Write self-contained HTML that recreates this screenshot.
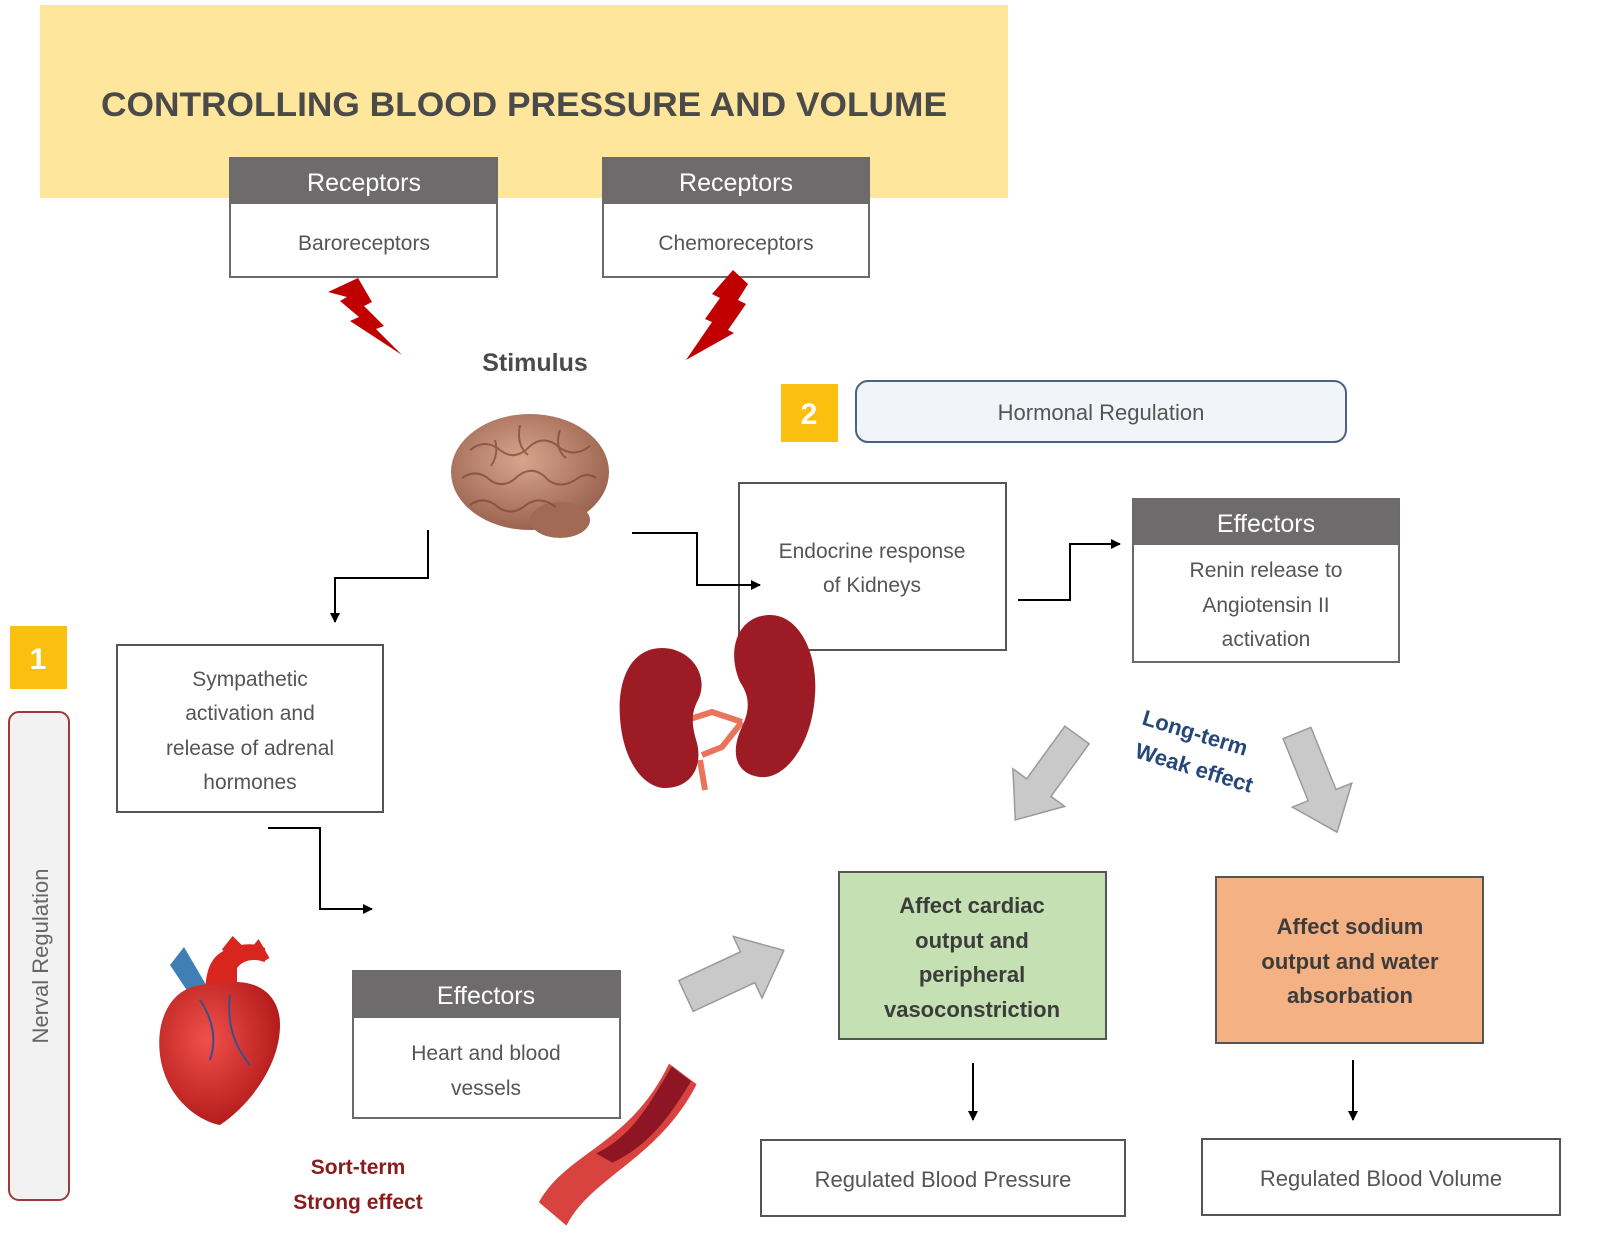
<!DOCTYPE html>
<html><head><meta charset="utf-8"><style>
html,body{margin:0;padding:0;background:#fff;}
svg{display:block;}
text{font-family:"Liberation Sans",sans-serif;}
</style></head><body>
<svg width="1600" height="1248" viewBox="0 0 1600 1248" xmlns="http://www.w3.org/2000/svg">
<defs>
<marker id="ah" markerWidth="10" markerHeight="10" refX="9" refY="5" orient="auto" markerUnits="userSpaceOnUse"><path d="M0,0 L10,5 L0,10 Z" fill="#000"/></marker>
<radialGradient id="br" cx="45%" cy="40%" r="60%"><stop offset="0" stop-color="#d9a48c"/><stop offset="1" stop-color="#9a6450"/></radialGradient>
<radialGradient id="ht" cx="40%" cy="40%" r="65%"><stop offset="0" stop-color="#f0504a"/><stop offset="1" stop-color="#b01818"/></radialGradient>
</defs>
<rect x="40" y="5" width="968" height="193" fill="#fee69c"/>
<text x="524" y="116" text-anchor="middle" font-size="34" font-weight="bold" fill="#4a4a4a" textLength="846" lengthAdjust="spacingAndGlyphs">CONTROLLING BLOOD PRESSURE AND VOLUME</text>

<rect x="230" y="158" width="267" height="119" fill="#fff" stroke="#6a6a6a" stroke-width="2"/>
<rect x="230" y="158" width="267" height="46" fill="#6d6b6b"/>
<text x="364" y="191" text-anchor="middle" font-size="25" fill="#fff">Receptors</text>
<text x="364" y="250" text-anchor="middle" font-size="21" fill="#555">Baroreceptors</text>
<rect x="603" y="158" width="266" height="119" fill="#fff" stroke="#6a6a6a" stroke-width="2"/>
<rect x="603" y="158" width="266" height="46" fill="#6d6b6b"/>
<text x="736" y="191" text-anchor="middle" font-size="25" fill="#fff">Receptors</text>
<text x="736" y="250" text-anchor="middle" font-size="21" fill="#555">Chemoreceptors</text>

<polygon points="328,292 358,278 372,302 364,306 384,326 376,329 402,355 350,321 359,317 340,301 347,297" fill="#c00000"/>
<polygon points="733,270 748,284 738,300 746,304 728,330 734,333 686,360 712,322 705,319 720,298 712,294" fill="#c00000"/>
<text x="535" y="371" text-anchor="middle" font-size="25" font-weight="bold" fill="#4a4a4a">Stimulus</text>

<g>
<ellipse cx="530" cy="472" rx="79" ry="58" fill="url(#br)"/>
<ellipse cx="560" cy="520" rx="30" ry="18" fill="#a26a55"/>
<g fill="none" stroke="#7a4636" stroke-width="2" opacity="0.7">
<path d="M470,450 q15,-12 30,0 q15,12 30,-4 q15,-12 30,2 q15,10 30,-2"/>
<path d="M462,478 q15,-10 28,2 q14,10 28,-4 q16,-12 30,4 q14,10 30,-2 q10,-6 18,0"/>
<path d="M470,505 q14,-10 28,2 q14,10 28,-2 q14,-10 30,2"/>
<path d="M520,425 q-4,20 8,30 M560,430 q-6,18 6,28 M495,440 q4,14 -4,26"/>
</g>
</g>

<rect x="781" y="384" width="57" height="58" fill="#fbbf10"/>
<text x="809" y="424" text-anchor="middle" font-size="30" font-weight="bold" fill="#fff">2</text>
<rect x="856" y="381" width="490" height="61" rx="12" fill="#f1f4f8" stroke="#4c6282" stroke-width="2"/>
<text x="1101" y="420" text-anchor="middle" font-size="22" fill="#555">Hormonal Regulation</text>

<rect x="739" y="483" width="267" height="167" fill="#fff" stroke="#555" stroke-width="2"/>
<text x="872" y="558" text-anchor="middle" font-size="21" fill="#555">Endocrine response</text>
<text x="872" y="592" text-anchor="middle" font-size="21" fill="#555">of Kidneys</text>

<rect x="1133" y="499" width="266" height="163" fill="#fff" stroke="#6a6a6a" stroke-width="2"/>
<rect x="1133" y="499" width="266" height="46" fill="#6d6b6b"/>
<text x="1266" y="532" text-anchor="middle" font-size="25" fill="#fff">Effectors</text>
<text x="1266" y="577" text-anchor="middle" font-size="21" fill="#555">Renin release to</text>
<text x="1266" y="612" text-anchor="middle" font-size="21" fill="#555">Angiotensin II</text>
<text x="1266" y="646" text-anchor="middle" font-size="21" fill="#555">activation</text>

<g fill="none" stroke="#000" stroke-width="2">
<polyline points="428,530 428,578 335,578 335,622" marker-end="url(#ah)"/>
<polyline points="632,533 697,533 697,585 760,585" marker-end="url(#ah)"/>
<polyline points="1018,600 1070,600 1070,544 1120,544" marker-end="url(#ah)"/>
<polyline points="268,828 320,828 320,909 372,909" marker-end="url(#ah)"/>
<line x1="973" y1="1063" x2="973" y2="1120" marker-end="url(#ah)"/>
<line x1="1353" y1="1060" x2="1353" y2="1120" marker-end="url(#ah)"/>
</g>

<g>
<path d="M742,722 l-30,-10 l-25,8 M742,722 l-20,25 l-20,8 M700,760 l5,30" stroke="#e8745a" stroke-width="6" fill="none"/>
<path d="M662,648 c-30,0 -45,30 -42,70 c3,45 25,70 45,70 c25,0 38,-20 32,-45 c-6,-20 -6,-30 2,-45 c10,-25 -10,-50 -37,-50z" fill="#9d1b25"/>
<path d="M770,615 c30,0 48,40 45,80 c-3,50 -30,85 -55,82 c-25,-3 -30,-25 -18,-50 c8,-18 8,-30 -2,-45 c-15,-35 0,-67 30,-67z" fill="#9d1b25"/>
</g>

<rect x="10" y="626" width="57" height="63" fill="#fbbf10"/>
<text x="38" y="669" text-anchor="middle" font-size="30" font-weight="bold" fill="#fff">1</text>
<rect x="9" y="712" width="60" height="488" rx="10" fill="#f2f2f2" stroke="#a0393a" stroke-width="2"/>
<text transform="translate(48,956) rotate(-90)" text-anchor="middle" font-size="22" fill="#666">Nerval Regulation</text>

<rect x="117" y="645" width="266" height="167" fill="#fff" stroke="#555" stroke-width="2"/>
<text x="250" y="686" text-anchor="middle" font-size="21" fill="#555">Sympathetic</text>
<text x="250" y="720" text-anchor="middle" font-size="21" fill="#555">activation and</text>
<text x="250" y="755" text-anchor="middle" font-size="21" fill="#555">release of adrenal</text>
<text x="250" y="789" text-anchor="middle" font-size="21" fill="#555">hormones</text>

<g fill="#c9c9c9" stroke="#9a9a9a" stroke-width="1.5">
<polygon transform="translate(1077,735) rotate(126)" points="0,-15 65,-15 65,-32 105,0 65,32 65,15 0,15"/>
<polygon transform="translate(1297,733) rotate(68)" points="0,-15 67,-15 67,-32 107,0 67,32 67,15 0,15"/>
<polygon transform="translate(686,996) rotate(-25)" points="0,-17 68,-17 68,-34 108,0 68,34 68,17 0,17"/>
</g>
<text transform="translate(1193,740) rotate(17)" text-anchor="middle" font-size="22" font-weight="bold" fill="#25477a">Long-term</text>
<text transform="translate(1192,775) rotate(17)" text-anchor="middle" font-size="22" font-weight="bold" fill="#25477a">Weak effect</text>

<rect x="839" y="872" width="267" height="167" fill="#c5e0b3" stroke="#555" stroke-width="2"/>
<g font-size="22" font-weight="bold" fill="#3c3c3c" text-anchor="middle">
<text x="972" y="913">Affect cardiac</text>
<text x="972" y="948">output and</text>
<text x="972" y="982">peripheral</text>
<text x="972" y="1017">vasoconstriction</text>
</g>
<rect x="1216" y="877" width="267" height="166" fill="#f4b183" stroke="#555" stroke-width="2"/>
<g font-size="22" font-weight="bold" fill="#3c3c3c" text-anchor="middle">
<text x="1350" y="934">Affect sodium</text>
<text x="1350" y="969">output and water</text>
<text x="1350" y="1003">absorbation</text>
</g>

<rect x="761" y="1140" width="364" height="76" fill="#fff" stroke="#555" stroke-width="2"/>
<text x="943" y="1187" text-anchor="middle" font-size="22" fill="#555">Regulated Blood Pressure</text>
<rect x="1202" y="1139" width="358" height="76" fill="#fff" stroke="#555" stroke-width="2"/>
<text x="1381" y="1186" text-anchor="middle" font-size="22" fill="#555">Regulated Blood Volume</text>

<rect x="353" y="971" width="267" height="147" fill="#fff" stroke="#6a6a6a" stroke-width="2"/>
<rect x="353" y="971" width="267" height="47" fill="#6d6b6b"/>
<text x="486" y="1004" text-anchor="middle" font-size="25" fill="#fff">Effectors</text>
<text x="486" y="1060" text-anchor="middle" font-size="21" fill="#555">Heart and blood</text>
<text x="486" y="1095" text-anchor="middle" font-size="21" fill="#555">vessels</text>

<g>
<path d="M170,965 l14,-18 l28,48 l-14,12z" fill="#3f7fb5"/>
<path d="M205,1000 c0,-30 5,-45 25,-52 c10,-4 25,-6 35,0 l0,14 c-12,-4 -22,-2 -28,6 l0,30z" fill="#d8261e"/>
<path d="M225,952 l8,-10 l10,10 M248,958 l10,-12 l8,14" stroke="#d8261e" stroke-width="8" fill="none"/>
<path d="M215,985 c-40,-5 -60,30 -55,70 c5,40 35,65 60,70 c30,-20 60,-60 60,-100 c0,-35 -30,-50 -65,-40z" fill="url(#ht)"/>
<path d="M200,1000 q20,30 10,60 M230,995 q-5,40 20,70" stroke="#3a4f8a" stroke-width="2" fill="none"/>
</g>

<g transform="translate(616,1145) rotate(-45)">
<path d="M-95,-14 C-40,-30 10,10 95,-20 L100,14 C20,40 -40,5 -92,22 Z" fill="#d9433f"/>
<path d="M-20,-8 C20,5 50,-5 95,-16 L98,8 C50,20 20,22 -15,10 Z" fill="#8e1524"/>
</g>
<text x="358" y="1174" text-anchor="middle" font-size="21" font-weight="bold" fill="#8b1a1a">Sort-term</text>
<text x="358" y="1209" text-anchor="middle" font-size="21" font-weight="bold" fill="#8b1a1a">Strong effect</text>
</svg>
</body></html>
